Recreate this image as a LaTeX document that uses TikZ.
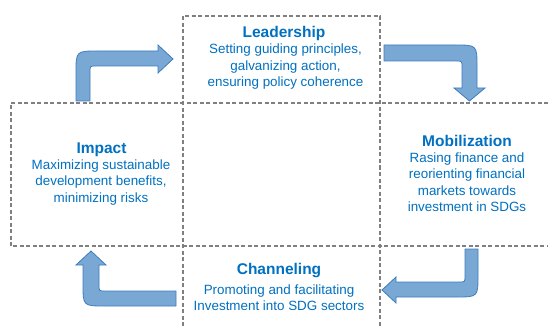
\documentclass[tikz,border=0pt]{standalone}
\usepackage{fontspec}
\setmainfont{Liberation Sans}
\definecolor{txtblue}{RGB}{0,112,192}
\definecolor{arrfill}{RGB}{122,168,212}
\definecolor{arrdraw}{RGB}{60,125,190}
\definecolor{dashgray}{RGB}{128,128,128}
\tikzset{
  dashline/.style={draw=dashgray, line width=1.5pt, dash pattern=on 4pt off 2.5pt},
  title/.style={text=txtblue, font=\fontsize{15.5}{18}\selectfont\bfseries, inner sep=0pt},
  body/.style={text=txtblue, font=\fontsize{13.4}{16.5}\selectfont, align=center, inner sep=0pt},
  blockarrow/.style={fill=arrfill, draw=arrdraw, line width=0.8pt, line join=miter}
}
\begin{document}
\begin{tikzpicture}[x=1pt,y=-1pt]
\useasboundingbox (0,0) rectangle (548,326);
% dashed boxes
\draw[dashline] (183,326) -- (183,16) -- (380,16) -- (380,326);
\draw[dashline] (548,103) -- (11,103) -- (11,246) -- (548,246);
% block arrows
\draw[blockarrow] (76,101) -- (76,73) .. controls (76,51) .. (98,51) -- (158,51) -- (158,45) -- (173,59)
  -- (158,73) -- (158,66) -- (96,66) .. controls (90,66) .. (90,72) -- (90,101) -- cycle;
\draw[blockarrow] (384,45) -- (455,45) .. controls (477,45) .. (477,67) -- (477,88) -- (485,88) -- (469.5,101)
  -- (454,88) -- (462,88) -- (462,67) .. controls (462,61) .. (456,61) -- (384,61) -- cycle;
\draw[blockarrow] (465,249) -- (478,249) -- (478,275) .. controls (478,297) .. (456,297) -- (396,297) -- (396,303)
  -- (382,290) -- (396,277) -- (396,282) -- (459,282) .. controls (465,282) .. (465,276) -- cycle;
\draw[blockarrow] (176,291) -- (176,306) -- (105,306) .. controls (83,306) .. (83,284) -- (83,265) -- (76,265)
  -- (91,251) -- (106,265) -- (99,265) -- (99,285) .. controls (99,291) .. (105,291) -- cycle;
% texts
\node[title] (leadT) at (284,33) {Leadership};
\node[body] (leadB) at (285.5,67) {Setting guiding principles,\\galvanizing action,\\ensuring policy coherence};
\node[title] (impT) at (101.5,150) {Impact};
\node[body] (impB) at (101,182.5) {Maximizing sustainable\\development benefits,\\minimizing risks};
\node[title] (mobT) at (467,141) {Mobilization};
\node[body] (mobB) at (467,182) {Rasing finance and\\reorienting financial\\markets towards\\investment in SDGs};
\node[title] (chanT) at (279,271) {Channeling};
\node[body] (chanB) at (279,297.5) {Promoting and facilitating\\Investment into SDG sectors};
\end{tikzpicture}
\end{document}
